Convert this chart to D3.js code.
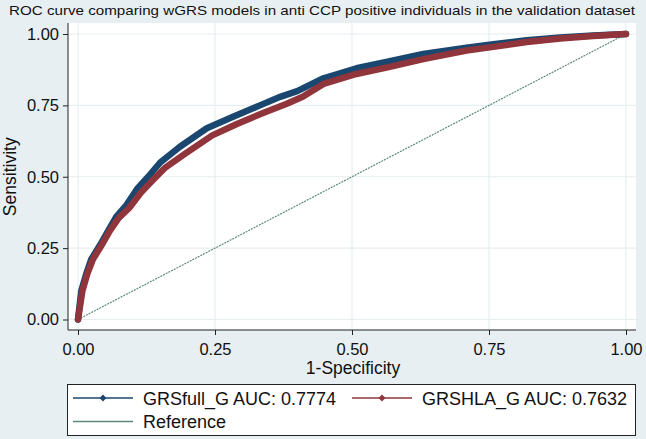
<!DOCTYPE html>
<html><head><meta charset="utf-8">
<script src="https://cdn.jsdelivr.net/npm/d3@7"></script>
<style>
html,body{margin:0;padding:0;background:#e8eff2;}
svg{display:block;font-family:"Liberation Sans",Arial,Helvetica,sans-serif;}
</style></head>
<body>
<svg id="chart" width="646" height="439"></svg>
<script>
const titleText = "ROC curve comparing wGRS models in anti CCP positive individuals in the validation dataset";
const xTicks = [0, 0.25, 0.5, 0.75, 1];
const yTicks = [0, 0.25, 0.5, 0.75, 1];
const xLabel = "1-Specificity";
const yLabel = "Sensitivity";
const seriesNames = ["GRSfull_G AUC: 0.7774", "GRSHLA_G AUC: 0.7632", "Reference"];

// GRSfull_G ROC (1-specificity, sensitivity)
const fullFpr = [0,0.003,0.006,0.015,0.024,0.040,0.055,0.070,0.088,0.109,0.128,0.150,0.186,0.235,0.283,0.332,0.369,0.400,0.448,0.508,0.569,0.630,0.709,0.758,0.819,0.880,0.940,1];
const fullTpr = [0,0.050,0.100,0.160,0.210,0.260,0.310,0.360,0.400,0.460,0.500,0.550,0.605,0.670,0.710,0.750,0.780,0.800,0.845,0.880,0.905,0.930,0.952,0.964,0.978,0.988,0.995,1];
// GRSHLA_G ROC
const hlaFpr = [0,0.004,0.008,0.017,0.027,0.043,0.058,0.074,0.093,0.115,0.135,0.158,0.195,0.245,0.290,0.340,0.380,0.410,0.448,0.508,0.569,0.630,0.709,0.758,0.819,0.880,0.940,1];
const hlaTpr = [0,0.050,0.100,0.160,0.210,0.260,0.310,0.355,0.390,0.445,0.485,0.530,0.580,0.645,0.685,0.725,0.755,0.780,0.825,0.860,0.885,0.912,0.942,0.955,0.972,0.984,0.993,1];
const refFpr = [0,1];
const refTpr = [0,1];

const colors = {full:"#1a476f", hla:"#90353b", ref:"#5b8a78"};

const svg = d3.select("#chart");
const W = 646, H = 439;
svg.append("rect").attr("width",W).attr("height",H).attr("fill","#e8eff2");

const plot = {left:68, right:636, top:23, bottom:330};
const x = d3.scaleLinear().domain([0,1]).range([78,626]);
const y = d3.scaleLinear().domain([0,1]).range([319.5,34]);

svg.append("rect").attr("x",plot.left).attr("y",plot.top)
  .attr("width",plot.right-plot.left).attr("height",plot.bottom-plot.top).attr("fill","#fff");

// grid
svg.append("g").selectAll("line").data(yTicks).join("line")
  .attr("x1",plot.left).attr("x2",plot.right).attr("y1",d=>y(d)).attr("y2",d=>y(d))
  .attr("stroke","#e6eef1").attr("stroke-width",1.2);
svg.append("g").selectAll("line").data(xTicks).join("line")
  .attr("y1",plot.top).attr("y2",plot.bottom).attr("x1",d=>x(d)).attr("x2",d=>x(d))
  .attr("stroke","#e6eef1").attr("stroke-width",1.2);

// reference line
const line = d3.line().x(d=>x(d[0])).y(d=>y(d[1]));
svg.append("path").datum(d3.zip(refFpr,refTpr)).attr("d",line)
  .attr("fill","none").attr("stroke",colors.ref).attr("stroke-width",1.2).attr("stroke-dasharray","2,1");

// ROC curves
function curve(fpr,tpr,color){
  const pts = d3.zip(fpr,tpr);
  svg.append("path").datum(pts).attr("d",line)
    .attr("fill","none").attr("stroke",color).attr("stroke-width",6.5)
    .attr("stroke-linejoin","round").attr("stroke-linecap","round");
}
curve(fullFpr,fullTpr,colors.full);
curve(hlaFpr,hlaTpr,colors.hla);

// axes
const yAxis = d3.axisLeft(y).tickValues(yTicks).tickFormat(d3.format(".2f")).tickSize(5).tickPadding(4).tickSizeOuter(0);
const gy = svg.append("g").attr("transform",`translate(${plot.left},0)`).call(yAxis);
const xAxis = d3.axisBottom(x).tickValues(xTicks).tickFormat(d3.format(".2f")).tickSize(5).tickPadding(8).tickSizeOuter(0);
const gx = svg.append("g").attr("transform",`translate(0,${plot.bottom})`).call(xAxis);
[gx,gy].forEach(g=>{
  g.select(".domain").remove();
  g.selectAll(".tick line").attr("stroke","#222");
  g.selectAll("text").attr("font-size","16.5px").attr("fill","#111").attr("font-family","Liberation Sans, Arial, sans-serif");
});
svg.append("line").attr("x1",plot.left).attr("x2",plot.left).attr("y1",plot.top).attr("y2",plot.bottom).attr("stroke","#222");
svg.append("line").attr("x1",plot.left).attr("x2",plot.right).attr("y1",plot.bottom).attr("y2",plot.bottom).attr("stroke","#222");

// titles
svg.append("text").attr("x",322).attr("y",14.5).attr("text-anchor","middle")
  .attr("font-size","13.5px").attr("fill","#111")
  .attr("textLength",626).attr("lengthAdjust","spacingAndGlyphs").text(titleText);
svg.append("text").attr("x",353).attr("y",374).attr("text-anchor","middle")
  .attr("font-size","17.5px").attr("fill","#111").text(xLabel);
svg.append("text").attr("transform",`translate(16,${y(0.5)}) rotate(-90)`).attr("text-anchor","middle")
  .attr("font-size","17.5px").attr("fill","#111").text(yLabel);

// legend
const lg = svg.append("g");
lg.append("rect").attr("x",67.5).attr("y",384.5).attr("width",568).attr("height",51)
  .attr("fill","#fff").attr("stroke","#222");
const items = [
  {name:seriesNames[0], color:colors.full, x0:73, y0:398, marker:true},
  {name:seriesNames[1], color:colors.hla, x0:352, y0:398, marker:true},
  {name:seriesNames[2], color:colors.ref, x0:73, y0:421.5, marker:false}
];
items.forEach(it=>{
  lg.append("line").attr("x1",it.x0).attr("x2",it.x0+60).attr("y1",it.y0).attr("y2",it.y0)
    .attr("stroke",it.color).attr("stroke-width",1.3);
  if(it.marker){
    lg.append("path").attr("d",d3.symbol(d3.symbolDiamond2,30)())
      .attr("transform",`translate(${it.x0+30},${it.y0})`).attr("fill",it.color);
  }
  lg.append("text").attr("x",it.x0+70).attr("y",it.y0+6.5).attr("font-size","18px").attr("fill","#111").text(it.name);
});
</script>
</body></html>
